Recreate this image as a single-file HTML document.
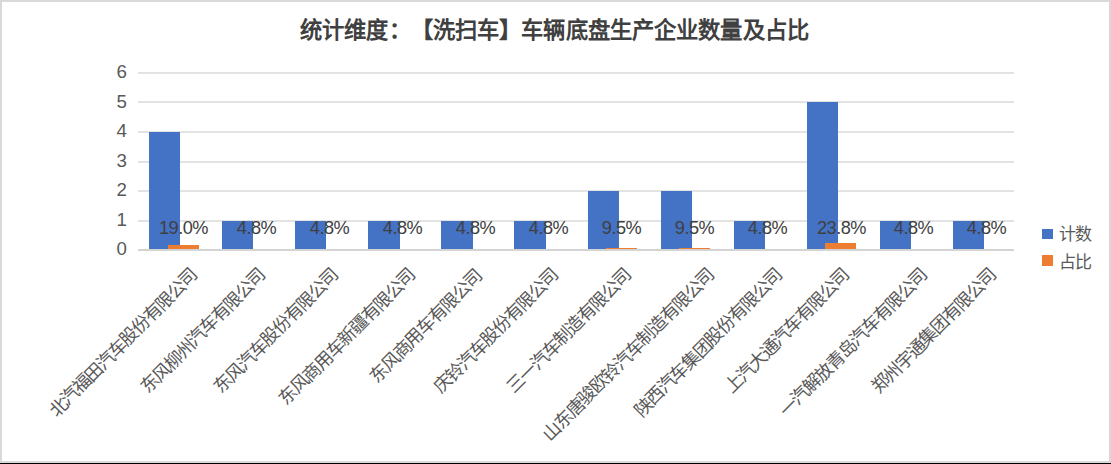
<!DOCTYPE html>
<html lang="zh-CN"><head><meta charset="utf-8"><title>统计维度：【洗扫车】车辆底盘生产企业数量及占比</title>
<style>
html,body{margin:0;padding:0;width:1111px;height:464px;overflow:hidden;background:#fff}
#c{position:relative;width:1111px;height:464px;overflow:hidden;background:#fff;font-family:"Liberation Sans",sans-serif;color:#595959}
.a{position:absolute}
.frame{left:0;top:0;width:1107px;height:459px;border:2px solid #d9d9d9;border-bottom:2px solid #d9d9d9}
.bl{left:0;top:463px;width:1111px;height:1px;background:#000}
.g{left:138px;width:876px;height:2px;background:#e3e3e3}
.ax{left:138px;width:876px;height:2px;background:#d4d4d4}
.b{background:#4472c4}
.o{background:#ed7d31}
.yl{width:40px;text-align:right;font-size:18.7px;line-height:24px;height:24px;color:#595959}
.dl{width:80px;text-align:center;font-size:18.2px;line-height:24px;height:24px;color:#404040;letter-spacing:-0.5px;white-space:nowrap}
.xl{width:300px;text-align:right;font-size:18px;line-height:24px;height:24px;color:#595959;white-space:nowrap;letter-spacing:-1.3px;transform-origin:100% 50%;transform:rotate(-45deg)}
.title{left:-1px;width:1111px;text-align:center;font-weight:bold;font-size:22.28px;line-height:30px;height:30px;color:#404040;white-space:nowrap;text-spacing-trim:space-all;letter-spacing:0.13px}
.lg{font-size:17px;line-height:24px;height:24px;color:#595959;white-space:nowrap;letter-spacing:-0.3px}
</style></head><body><div id="c">
<div class="a frame"></div>
<div class="a title" style="top:15.5px">统计维度：【洗扫车】车辆底盘生产企业数量及占比</div>
<div class="a g" style="top:72px"></div>
<div class="a g" style="top:101px"></div>
<div class="a g" style="top:131px"></div>
<div class="a g" style="top:161px"></div>
<div class="a g" style="top:190px"></div>
<div class="a g" style="top:220px"></div>
<div class="a yl" style="left:87px;top:60.0px">6</div>
<div class="a yl" style="left:87px;top:89.5px">5</div>
<div class="a yl" style="left:87px;top:119.0px">4</div>
<div class="a yl" style="left:87px;top:148.5px">3</div>
<div class="a yl" style="left:87px;top:178.0px">2</div>
<div class="a yl" style="left:87px;top:207.5px">1</div>
<div class="a yl" style="left:87px;top:237.0px">0</div>
<div class="a b" style="left:149px;top:132px;width:31px;height:118px"></div>
<div class="a b" style="left:222px;top:221px;width:31px;height:29px"></div>
<div class="a b" style="left:295px;top:221px;width:31px;height:29px"></div>
<div class="a b" style="left:368px;top:221px;width:32px;height:29px"></div>
<div class="a b" style="left:441px;top:221px;width:32px;height:29px"></div>
<div class="a b" style="left:514px;top:221px;width:32px;height:29px"></div>
<div class="a b" style="left:588px;top:191px;width:31px;height:59px"></div>
<div class="a b" style="left:661px;top:191px;width:31px;height:59px"></div>
<div class="a b" style="left:734px;top:221px;width:31px;height:29px"></div>
<div class="a b" style="left:807px;top:102px;width:31px;height:148px"></div>
<div class="a b" style="left:880px;top:221px;width:31px;height:29px"></div>
<div class="a b" style="left:953px;top:221px;width:31px;height:29px"></div>
<div class="a o" style="left:168px;top:245px;width:31px;height:4px"></div>
<div class="a o" style="left:606px;top:248px;width:31px;height:1px"></div>
<div class="a o" style="left:679px;top:248px;width:31px;height:1px"></div>
<div class="a o" style="left:825px;top:243px;width:31px;height:6px"></div>
<div class="a ax" style="top:249px"></div>
<div class="a dl" style="left:143.5px;top:216.0px">19.0%</div>
<div class="a dl" style="left:216.5px;top:216.0px">4.8%</div>
<div class="a dl" style="left:289.5px;top:216.0px">4.8%</div>
<div class="a dl" style="left:362.5px;top:216.0px">4.8%</div>
<div class="a dl" style="left:435.5px;top:216.0px">4.8%</div>
<div class="a dl" style="left:508.5px;top:216.0px">4.8%</div>
<div class="a dl" style="left:581.5px;top:216.0px">9.5%</div>
<div class="a dl" style="left:654.5px;top:216.0px">9.5%</div>
<div class="a dl" style="left:727.5px;top:216.0px">4.8%</div>
<div class="a dl" style="left:801.5px;top:216.0px">23.8%</div>
<div class="a dl" style="left:873.5px;top:216.0px">4.8%</div>
<div class="a dl" style="left:946.5px;top:216.0px">4.8%</div>
<div class="a xl" style="left:-106.0px;top:259.5px">北汽福田汽车股份有限公司</div>
<div class="a xl" style="left:-38.1px;top:259.5px">东风柳州汽车有限公司</div>
<div class="a xl" style="left:35.0px;top:259.5px">东风汽车股份有限公司</div>
<div class="a xl" style="left:111.6px;top:259.5px">东风商用车新疆有限公司</div>
<div class="a xl" style="left:179.1px;top:260.7px">东风商用车有限公司</div>
<div class="a xl" style="left:254.6px;top:259.5px">庆铃汽车股份有限公司</div>
<div class="a xl" style="left:327.7px;top:259.5px">三一汽车制造有限公司</div>
<div class="a xl" style="left:410.8px;top:259.5px">山东唐骏欧铃汽车制造有限公司</div>
<div class="a xl" style="left:478.7px;top:259.5px">陕西汽车集团股份有限公司</div>
<div class="a xl" style="left:545.9px;top:259.5px">上汽大通汽车有限公司</div>
<div class="a xl" style="left:624.1px;top:259.5px">一汽解放青岛汽车有限公司</div>
<div class="a xl" style="left:693.4px;top:259.5px">郑州宇通集团有限公司</div>
<div class="a b" style="left:1042.3px;top:228.6px;width:11px;height:10.6px"></div>
<div class="a lg" style="left:1058.5px;top:223px">计数</div>
<div class="a o" style="left:1042.3px;top:255.3px;width:11px;height:10.6px"></div>
<div class="a lg" style="left:1058.5px;top:250.5px">占比</div>
<div class="a bl"></div>
</div></body></html>
